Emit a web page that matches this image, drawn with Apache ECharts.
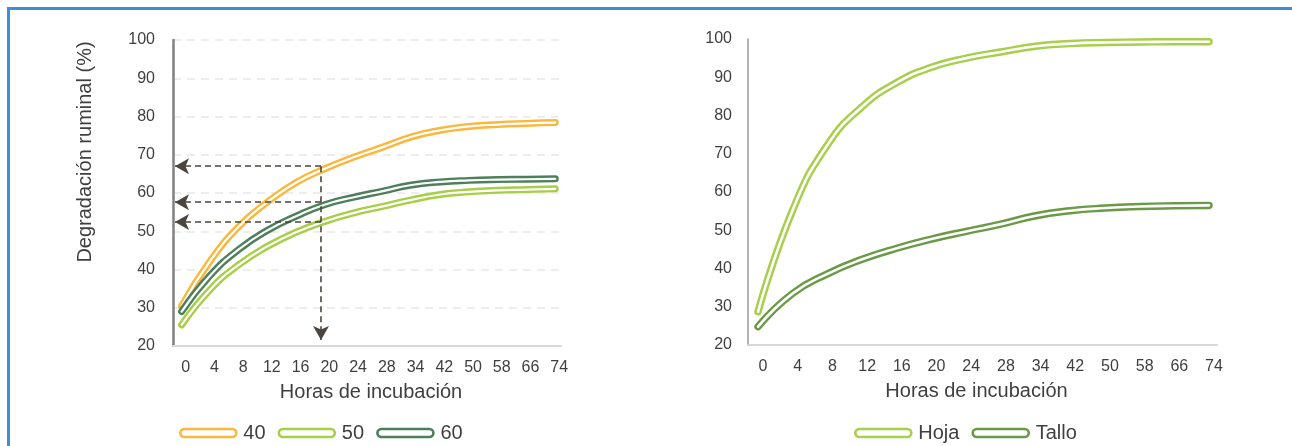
<!DOCTYPE html>
<html>
<head>
<meta charset="utf-8">
<script src="https://cdn.jsdelivr.net/npm/echarts@6/dist/echarts.min.js"></script>
<style>
html,body{margin:0;padding:0;background:#fff;}
#chart{position:absolute;left:0;top:0;width:1292px;height:446px;}
#frame{position:absolute;left:7px;top:7px;right:0;bottom:0;border-top:3px solid #3b8fd2;border-left:3px solid #3b8fd2;pointer-events:none;}
</style>
</head>
<body>
<div id="chart"></div>
<div id="frame"></div>
<script>
// Tick labels (hours of incubation), one per category position
const hours = ['0','4','8','12','16','20','24','28','34','42','50','58','66','74'];
const yTicksMin = 20, yTicksMax = 100, yTickStep = 10;

// Left chart: three treatments
const names40 = '40', names50 = '50', names60 = '60';
const s40 = [30.5, 42.3, 51.3, 57.7, 62.8, 66.4, 69.4, 72.0, 74.7, 76.4, 77.4, 77.9, 78.2, 78.4];
const s50 = [25.5, 34.8, 41.3, 46.1, 49.8, 52.6, 54.8, 56.5, 58.2, 59.6, 60.3, 60.7, 60.9, 61.1];
const s60 = [29.0, 38.5, 45.3, 50.3, 54.0, 57.0, 58.9, 60.5, 62.1, 62.9, 63.3, 63.5, 63.6, 63.7];

// Right chart: plant fraction
const hoja = [28.7, 55.3, 72.3, 82.3, 88.6, 92.6, 95.0, 96.6, 98.1, 98.8, 99.1, 99.2, 99.3, 99.3];
const tallo = [24.8, 33.5, 38.6, 42.4, 45.3, 47.7, 49.7, 51.6, 53.8, 55.1, 55.8, 56.2, 56.4, 56.5];

// Guide arrows on left chart (x in category-position units, y in %)
const guideX = 4.85;
const guideLevels = [67.0, 57.6, 52.4];
const guideXEnd = -0.23;
const guideYEnd = 21.6;

const C40 = '#fbb73c', C50 = '#a6ce47', C60 = '#4e7f5b', CHOJA = '#a8cf4b', CTALLO = '#6b9a46';
const FONT = 'Liberation Sans';
const TXT = '#3f3f3f';
const CAPSULE = 'path://M4,0 L52,0 A4,4 0 0 1 52,8 L4,8 A4,4 0 0 1 4,0 Z';

function pairs(arr){ return arr.map((v,i)=>[i,v]); }

function lineSeries(name, data, color, xi, outerW, innerW, extra){
  const base = {
    type:'line', name:name, xAxisIndex:xi, yAxisIndex:xi, data:pairs(data),
    smooth:0.5, symbol:'none', silent:true, animation:false
  };
  const outer = Object.assign({}, base, {
    color: color,
    lineStyle:{color:color, width:outerW, cap:'round', join:'round'}
  }, extra||{});
  const inner = Object.assign({}, base, {
    color: color,
    lineStyle:{color:'#ffffff', width:innerW, cap:'round', join:'round'}
  });
  return [outer, inner];
}

const guideData = [];
guideLevels.forEach(l => guideData.push([{coord:[guideX, l]}, {coord:[guideXEnd, l]}]));
guideData.push([{coord:[guideX, guideLevels[0]]}, {coord:[guideX, guideYEnd]}]);

const markLineGuides = {
  markLine:{
    silent:true, animation:false,
    symbol:['none','arrow'], symbolSize:[12,14],
    label:{show:false},
    lineStyle:{type:[6,4], color:'#4a453e', width:1.6},
    emphasis:{disabled:true},
    data: guideData
  }
};

const series = [].concat(
  lineSeries(names40, s40, C40, 0, 7, 2.2, markLineGuides),
  lineSeries(names50, s50, C50, 0, 7, 2.2),
  lineSeries(names60, s60, C60, 0, 7, 2.2),
  lineSeries('Hoja', hoja, CHOJA, 1, 7.5, 2.6),
  lineSeries('Tallo', tallo, CTALLO, 1, 7.5, 2.6)
);

function xAxis(gi, min, max, padLeft, nameShift, lineColor){
  return {
    type:'value', gridIndex:gi, min:min, max:max,
    name:'Horas de incubación', nameLocation:'middle', nameGap:36,
    nameTextStyle:{fontFamily:FONT, fontSize:20, color:TXT,
      padding: nameShift >= 0 ? [0,0,0,2*nameShift] : [0,-2*nameShift,0,0]},
    axisLine:{show:true, onZero:false, lineStyle:{color:lineColor, width:2}},
    axisTick:{show:false},
    splitLine:{show:false},
    axisLabel:{
      customValues: hours.map((h,i)=>i),
      formatter: v => hours[Math.round(v)],
      fontFamily:FONT, fontSize:16, color:TXT, margin:14,
      padding:[0,0,0,padLeft]
    }
  };
}

function yAxis(gi, showGrid, axisColor, axisW, margin, withName){
  const a = {
    type:'value', gridIndex:gi, min:yTicksMin, max:yTicksMax, interval:yTickStep,
    axisLine:{show:true, onZero:false, lineStyle:{color:axisColor, width:axisW}},
    axisTick:{show:false},
    axisLabel:{fontFamily:FONT, fontSize:16, color:TXT, margin:margin},
    splitLine:{show:showGrid, lineStyle:{color:'#e8e8e8', width:1.5, type:[8,6]}}
  };
  if (withName){
    a.name = 'Degradación ruminal (%)';
    a.nameLocation = 'middle';
    a.nameGap = 78;
    a.nameTextStyle = {fontFamily:FONT, fontSize:20, color:TXT, padding:[0,0,0,82]};
  }
  return a;
}

function legend(left, names, colors){
  return {
    left:left, top:423, orient:'horizontal', padding:0,
    icon:CAPSULE, itemWidth:56, itemHeight:8, itemGap:12,
    selectedMode:false,
    textStyle:{fontFamily:FONT, fontSize:20, color:TXT, padding:[0,0,0,2]},
    data: names.map((n,i)=>({name:n, itemStyle:{color:'#ffffff', borderColor:colors[i], borderWidth:2.6}}))
  };
}

const option = {
  backgroundColor:'#ffffff',
  animation:false,
  grid:[
    {left:173, top:40, width:388, height:306},
    {left:748, top:39, width:469, height:306}
  ],
  xAxis:[
    xAxis(0, -0.3, 13.2, 8, 4, '#d9d9d9'),
    xAxis(1, -0.29, 13.23, 10, -6, '#d6d6d6')
  ],
  yAxis:[
    yAxis(0, true, '#7f7f7f', 2.5, 18, true),
    yAxis(1, false, '#9a9a9a', 1.5, 16, false)
  ],
  legend:[
    legend(179, [names40, names50, names60], [C40, C50, C60]),
    legend(854, ['Hoja','Tallo'], [CHOJA, CTALLO])
  ],
  series: series
};

const chart = echarts.init(document.getElementById('chart'), null, {renderer:'canvas'});
chart.setOption(option);
</script>
</body>
</html>
